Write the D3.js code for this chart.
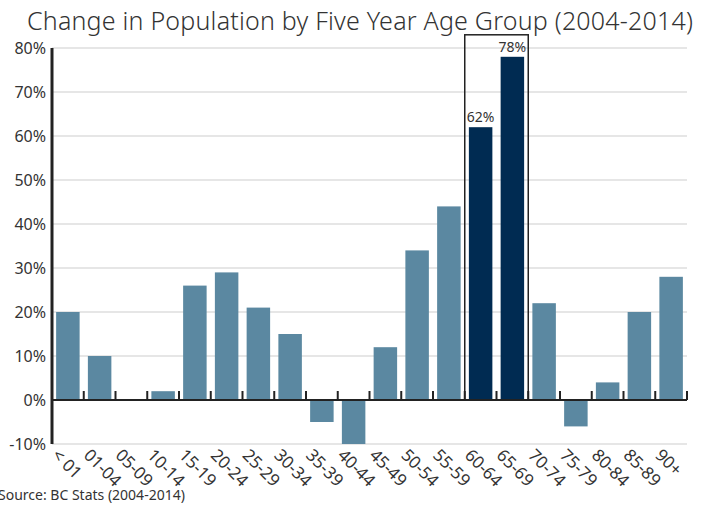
<!DOCTYPE html>
<html>
<head>
<meta charset="utf-8">
<script src="https://cdn.jsdelivr.net/npm/d3@7"></script>
<style>
  body { margin: 0; background: #fff; }
  text { font-family: "Noto Sans", "Open Sans", sans-serif; }
</style>
</head>
<body>
<script>
var ageGroups = ['< 01', '01-04', '05-09', '10-14', '15-19', '20-24', '25-29', '30-34', '35-39', '40-44',
  '45-49', '50-54', '55-59', '60-64', '65-69', '70-74', '75-79', '80-84', '85-89', '90+'];
var changePct = [20, 10, 0, 2, 26, 29, 21, 15, -5, -10, 12, 34, 44, 62, 78, 22, -6, 4, 20, 28];
var highlighted = ['60-64', '65-69'];
var yTicks = [-10, 0, 10, 20, 30, 40, 50, 60, 70, 80];

var width = 712;
var height = 506;
var plotLeft = 52;
var plotRight = 687;
var plotTop = 48;
var plotBottom = 444;

var svg = d3.select('body').append('svg')
  .attr('width', width)
  .attr('height', height);

var x = d3.scaleBand()
  .domain(ageGroups)
  .range([plotLeft, plotRight])
  .paddingInner(0.26)
  .paddingOuter(0.13);

var y = d3.scaleLinear()
  .domain([-10, 80])
  .range([plotBottom, plotTop]);

// title
svg.append('text')
  .attr('x', 360)
  .attr('y', 30)
  .attr('text-anchor', 'middle')
  .attr('textLength', 666)
  .style('font-size', '25px')
  .style('font-weight', 300)
  .style('fill', '#333')
  .text('Change in Population by Five Year Age Group (2004-2014)');

// gridlines
svg.append('g').selectAll('line')
  .data(yTicks)
  .enter().append('line')
  .attr('x1', plotLeft)
  .attr('x2', plotRight)
  .attr('y1', function(d) { return y(d); })
  .attr('y2', function(d) { return y(d); })
  .style('stroke', '#e6e6e6')
  .style('stroke-width', 2);

// y labels
svg.append('g').selectAll('text')
  .data(yTicks)
  .enter().append('text')
  .attr('x', 46)
  .attr('y', function(d) { return y(d); })
  .attr('dy', '0.35em')
  .attr('text-anchor', 'end')
  .style('font-size', '16px')
  .style('fill', '#333')
  .text(function(d) { return d + '%'; });

// highlight box
var boxTop = y(83);
svg.append('rect')
  .attr('x', x('60-64') - x.step() * x.paddingInner() / 2)
  .attr('y', boxTop)
  .attr('width', x.step() * 2)
  .attr('height', y(0) - boxTop)
  .style('fill', 'none')
  .style('stroke', '#222')
  .style('stroke-width', 1.5);

// bars
svg.append('g').selectAll('rect')
  .data(changePct)
  .enter().append('rect')
  .attr('x', function(d, i) { return x(ageGroups[i]); })
  .attr('y', function(d) { return y(Math.max(0, d)); })
  .attr('width', x.bandwidth())
  .attr('height', function(d) { return Math.abs(y(d) - y(0)); })
  .style('fill', function(d, i) {
    return highlighted.indexOf(ageGroups[i]) >= 0 ? '#002b52' : '#5b88a1';
  });

// value labels on highlighted bars
svg.append('g').selectAll('text')
  .data(highlighted)
  .enter().append('text')
  .attr('x', function(d) { return x(d) + x.bandwidth() / 2; })
  .attr('y', function(d) { return y(changePct[ageGroups.indexOf(d)]) - 5; })
  .attr('text-anchor', 'middle')
  .style('font-size', '14px')
  .style('fill', '#333')
  .text(function(d) { return changePct[ageGroups.indexOf(d)] + '%'; });

// zero line with ticks between groups
var zero = y(0);
svg.append('line')
  .attr('x1', plotLeft)
  .attr('x2', plotRight)
  .attr('y1', zero)
  .attr('y2', zero)
  .style('stroke', '#222')
  .style('stroke-width', 2);

svg.append('g').selectAll('line')
  .data(ageGroups)
  .enter().append('line')
  .attr('x1', function(d) { return x(d) + x.bandwidth() + x.step() * x.paddingInner() / 2; })
  .attr('x2', function(d) { return x(d) + x.bandwidth() + x.step() * x.paddingInner() / 2; })
  .attr('y1', zero - 9)
  .attr('y2', zero)
  .style('stroke', '#222')
  .style('stroke-width', 2);

// y axis line
svg.append('line')
  .attr('x1', plotLeft)
  .attr('x2', plotLeft)
  .attr('y1', plotTop)
  .attr('y2', plotBottom)
  .style('stroke', '#222')
  .style('stroke-width', 3);

// x labels
svg.append('g').selectAll('text')
  .data(ageGroups)
  .enter().append('text')
  .attr('transform', function(d) {
    return 'translate(' + (x(d) - 1) + ',' + (plotBottom + 8) + ') rotate(45)';
  })
  .attr('text-anchor', 'start')
  .attr('dy', '0.35em')
  .style('font-size', '17px')
  .style('fill', '#333')
  .text(function(d) { return d; });

// source
svg.append('text')
  .attr('x', -2)
  .attr('y', 500)
  .style('font-size', '14px')
  .style('fill', '#333')
  .text('Source: BC Stats (2004-2014)');
</script>
</body>
</html>
